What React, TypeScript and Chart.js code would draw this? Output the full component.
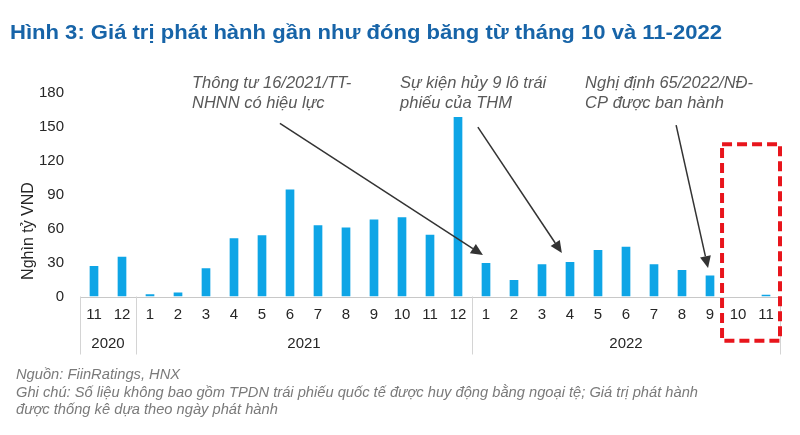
import React, { useEffect, useRef } from 'react';
import { Chart, registerables } from 'chart.js';

Chart.register(...registerables);

const TITLE = 'Hình 3: Giá trị phát hành gần như đóng băng từ tháng 10 và 11-2022';
const categories = ['11', '12', '1', '2', '3', '4', '5', '6', '7', '8', '9', '10', '11', '12', '1', '2', '3', '4', '5', '6', '7', '8', '9', '10', '11'];
const values = [27, 35, 2, 3.5, 25, 51.5, 54, 94.5, 63, 61, 68, 70, 54.5, 158.5, 29.5, 14.5, 28.5, 30.5, 41, 44, 28.5, 23.5, 18.5, 0, 1.5];
const yearLabels = ['2020', '2021', '2022'];
const yearSpans = [2, 12, 11];
const yMax = 180;
const yStep = 30;
const yAxisTitle = 'Nghìn tỷ VND';
const noteLines = [
  'Nguồn: FiinRatings, HNX',
  'Ghi chú: Số liệu không bao gồm TPDN trái phiếu quốc tế được huy động bằng ngoại tệ; Giá trị phát hành',
  'được thống kê dựa theo ngày phát hành',
];
const annotationTexts = [
  ['Thông tư 16/2021/TT-', 'NHNN có hiệu lực'],
  ['Sự kiện hủy 9 lô trái', 'phiếu của THM'],
  ['Nghị định 65/2022/NĐ-', 'CP được ban hành'],
];
// positions in (category index, value) units
const annotationAnchor = [[3.5, 188.5], [10.93, 188.5], [17.54, 188.5]];
const arrowFrom = [[6.64, 153], [13.71, 149.6], [20.79, 151.3]];
const arrowTo = [[13.89, 36.6], [16.71, 38.4], [21.93, 25.1]];
const highlightFrom = [22.43, 134.5];
const highlightTo = [24.5, -39];

const BAR_COLOR = '#0ea5e6';
const TITLE_COLOR = '#1764a8';

const overlayPlugin = {
  id: 'overlay',
  afterDraw(chart: any) {
    const ctx = chart.ctx as CanvasRenderingContext2D;
    const area = chart.chartArea;
    const yS = chart.scales.y;
    const n = categories.length;
    const cw = area.width / n;
    const cx = (f: number) => area.left + (f + 0.5) * cw;
    const vy = (v: number) => yS.getPixelForValue(v);

    ctx.save();
    // title
    ctx.fillStyle = TITLE_COLOR;
    ctx.font = 'bold 21px "Liberation Sans Narrow", "Liberation Sans", Arial, sans-serif';
    ctx.textBaseline = 'alphabetic';
    ctx.textAlign = 'left';
    const tw = ctx.measureText(TITLE).width;
    const target = 712;
    ctx.save();
    ctx.translate(10, 38.5);
    ctx.scale(target / tw, 1);
    ctx.fillText(TITLE, 0, 0);
    ctx.restore();

    // x axis line
    ctx.strokeStyle = '#c8c8c8';
    ctx.lineWidth = 1;
    ctx.beginPath();
    ctx.moveTo(area.left, Math.round(area.bottom) + 0.5);
    ctx.lineTo(area.right, Math.round(area.bottom) + 0.5);
    ctx.stroke();

    // group separators
    ctx.strokeStyle = '#d4d4d4';
    let idx = 0;
    const bounds = [0];
    yearSpans.forEach((s) => { idx += s; bounds.push(idx); });
    bounds.forEach((b) => {
      const x = Math.round(area.left + b * cw) + 0.5;
      ctx.beginPath();
      ctx.moveTo(x, area.bottom);
      ctx.lineTo(x, area.bottom + 58);
      ctx.stroke();
    });

    // month labels
    ctx.fillStyle = '#262626';
    ctx.font = '15px "Liberation Sans", Arial, sans-serif';
    ctx.textAlign = 'center';
    ctx.textBaseline = 'middle';
    categories.forEach((c, i) => ctx.fillText(c, cx(i), area.bottom + 18));
    // year labels
    yearLabels.forEach((y, i) => {
      const mid = area.left + ((bounds[i] + bounds[i + 1]) / 2) * cw;
      ctx.fillText(y, mid, area.bottom + 47);
    });

    // y axis title
    ctx.save();
    ctx.translate(29, 231);
    ctx.rotate(-Math.PI / 2);
    ctx.font = '16px "Liberation Sans", Arial, sans-serif';
    ctx.fillStyle = '#262626';
    ctx.fillText(yAxisTitle, 0, 0);
    ctx.restore();

    // annotations text
    ctx.fillStyle = '#595959';
    ctx.font = 'italic 16.5px "Liberation Sans", Arial, sans-serif';
    ctx.textAlign = 'left';
    ctx.textBaseline = 'middle';
    annotationTexts.forEach((lines, i) => {
      const x = cx(annotationAnchor[i][0]);
      const y = vy(annotationAnchor[i][1]);
      lines.forEach((l, j) => ctx.fillText(l, x, y + j * 20));
    });

    // arrows
    ctx.strokeStyle = '#333333';
    ctx.fillStyle = '#333333';
    ctx.lineWidth = 1.5;
    arrowFrom.forEach((from, i) => {
      const x1 = cx(from[0]);
      const y1 = vy(from[1]);
      const x2 = cx(arrowTo[i][0]);
      const y2 = vy(arrowTo[i][1]);
      const ang = Math.atan2(y2 - y1, x2 - x1);
      const hl = 12;
      const hw = 5.5;
      const bx = x2 - hl * Math.cos(ang);
      const by = y2 - hl * Math.sin(ang);
      ctx.beginPath();
      ctx.moveTo(x1, y1);
      ctx.lineTo(bx, by);
      ctx.stroke();
      ctx.beginPath();
      ctx.moveTo(x2, y2);
      ctx.lineTo(bx + hw * Math.sin(ang), by - hw * Math.cos(ang));
      ctx.lineTo(bx - hw * Math.sin(ang), by + hw * Math.cos(ang));
      ctx.closePath();
      ctx.fill();
    });

    // highlight box
    ctx.strokeStyle = '#e8151c';
    ctx.lineWidth = 4;
    ctx.setLineDash([10, 5]);
    const bx1 = cx(highlightFrom[0]);
    const by1 = vy(highlightFrom[1]);
    const bx2 = cx(highlightTo[0]);
    const by2 = vy(highlightTo[1]);
    ctx.strokeRect(bx1, by1, bx2 - bx1, by2 - by1);
    ctx.setLineDash([]);

    // notes
    ctx.fillStyle = '#7a7a7a';
    ctx.font = 'italic 14.7px "Liberation Sans", Arial, sans-serif';
    ctx.textAlign = 'left';
    ctx.textBaseline = 'middle';
    noteLines.forEach((l, i) => ctx.fillText(l, 16, 375 + i * 17.5));

    ctx.restore();
  },
};

export default function App() {
  const ref = useRef<HTMLCanvasElement | null>(null);
  useEffect(() => {
    document.body.style.margin = '0';
    const canvas = ref.current;
    if (!canvas) return;
    const chart = new Chart(canvas, {
      type: 'bar',
      data: {
        labels: categories,
        datasets: [
          {
            data: values,
            backgroundColor: BAR_COLOR,
            borderWidth: 0,
            barPercentage: 0.31,
            categoryPercentage: 1,
          },
        ],
      },
      options: {
        responsive: false,
        animation: false,
        devicePixelRatio: 1,
        layout: { padding: { top: 92.7, bottom: 138.5, right: 20, left: 0 } },
        plugins: { legend: { display: false }, tooltip: { enabled: false }, title: { display: false } },
        scales: {
          x: { display: false },
          y: {
            min: 0,
            max: yMax,
            grid: { display: false, drawTicks: false },
            border: { display: false },
            ticks: {
              stepSize: yStep,
              padding: 16,
              color: '#262626',
              font: { family: '"Liberation Sans", Arial, sans-serif', size: 15 },
            },
            afterFit: (scale: any) => {
              scale.width = 80;
            },
          },
        },
      },
      plugins: [overlayPlugin],
    });
    return () => chart.destroy();
  }, []);
  return (
    <div style={{ position: 'absolute', left: 0, top: 0, width: 800, height: 435, background: '#fff' }}>
      <canvas ref={ref} width={800} height={435} style={{ display: 'block', width: 800, height: 435 }} />
    </div>
  );
}
